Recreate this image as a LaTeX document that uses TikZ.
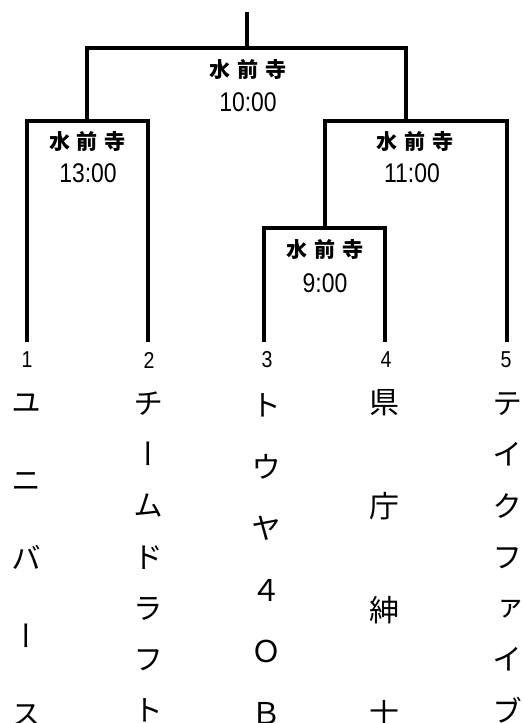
\documentclass[tikz,border=0pt]{standalone}
\usepackage{fontspec}
\newfontfamily\jpfont{Noto Sans CJK JP}
\newfontfamily\jpvfont[RawFeature=+vert]{Noto Sans CJK JP}
\newfontfamily\numfont[FakeStretch=0.85]{Liberation Sans}
\begin{document}
\begin{tikzpicture}[x=1pt,y=-1pt,line width=3.2pt,
  venue/.style={font=\jpfont\bfseries\fontsize{21}{21}\selectfont,inner sep=0pt},
  time/.style={font=\numfont\fontsize{27}{27}\selectfont,inner sep=0pt},
  seed/.style={font=\numfont\fontsize{23}{23}\selectfont,inner sep=0pt},
  namech/.style={font=\jpvfont\fontsize{30}{30}\selectfont,inner sep=0pt,text height=26.4pt,text depth=3.6pt}]
\useasboundingbox (0,0) rectangle (524,723);
\clip (0,0) rectangle (524,723);
% bracket points
\coordinate (root) at (247,12);
\coordinate (mF) at (247,48);
\coordinate (mL) at (87,121);
\coordinate (mR) at (406,121);
\coordinate (mS) at (325,228);
\coordinate (t1) at (27,342);
\coordinate (t2) at (148,342);
\coordinate (t3) at (264,342);
\coordinate (t4) at (385,342);
\coordinate (t5) at (507,342);
% bracket lines
\draw (root) -- (mF);
\draw (mL) |- (mF) -| (mR);
\draw (t1) |- (mL) -| (t2);
\draw (mS) |- (mR) -| (t5);
\draw (t3) |- (mS) -| (t4);
% match labels
\node[venue] (vF) at (248,69) {水\kern7pt前\kern7pt寺};
\node[time] (tF) at (248,102) {10:00};
\node[venue] (vL) at (87.5,141) {水\kern7pt前\kern7pt寺};
\node[time] (tL) at (88,173) {13:00};
\node[venue] (vR) at (415,141) {水\kern7pt前\kern7pt寺};
\node[time] (tR) at (412,173) {11:00};
\node[venue] (vS) at (325,249) {水\kern7pt前\kern7pt寺};
\node[time] (tS) at (325,283) {9:00};
% seeds
\node[seed] (s1) at (27,360) {1};
\node[seed] (s2) at (149,360) {2};
\node[seed] (s3) at (267,360) {3};
\node[seed] (s4) at (386,360) {4};
\node[seed] (s5) at (506,360) {5};
% team names
\foreach \c [count=\i from 0] in {ユ,ニ,バ,ー,ス}
  \node[namech] (na\i) at (27,402+\i*78) {\c};
\foreach \c [count=\i from 0] in {チ,ー,ム,ド,ラ,フ,ト}
  \node[namech] (nb\i) at (148,403+\i*51.2) {\c};
\foreach \c [count=\i from 0] in {ト,ウ,ヤ,４,Ｏ,Ｂ}
  \node[namech] (nc\i) at (266,405+\i*61.6) {\c};
\foreach \c [count=\i from 0] in {県,庁,紳,士}
  \node[namech] (nd\i) at (384,402+\i*104) {\c};
\foreach \c [count=\i from 0] in {テ,イ,ク,フ,ァ,イ,ブ}
  \node[namech] (ne\i) at (507,403+\i*51.3) {\c};
\end{tikzpicture}
\end{document}
